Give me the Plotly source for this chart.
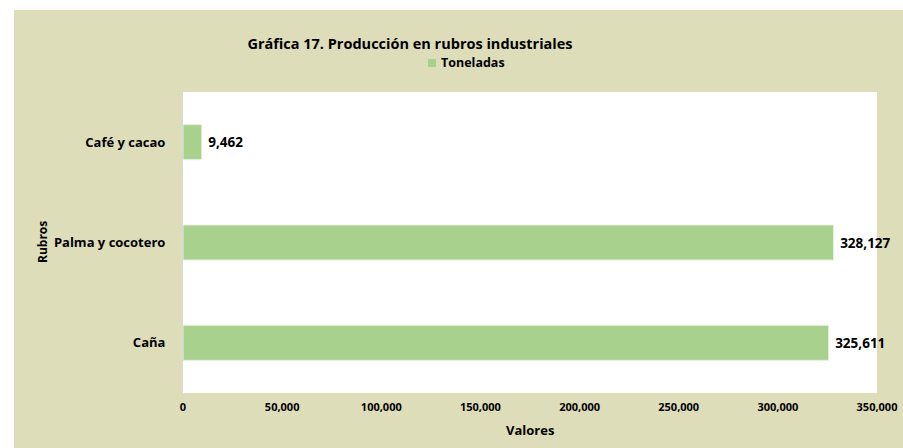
import plotly.graph_objects as go

categories = ["Caña", "Palma y cocotero", "Café y cacao"]
values = [325611, 328127, 9462]
series_name = "Toneladas"
x_ticks = [0, 50000, 100000, 150000, 200000, 250000, 300000, 350000]
x_tick_labels = ["0", "50,000", "100,000", "150,000", "200,000", "250,000", "300,000", "350,000"]

W, H = 903, 448
L, R, T, B = 183, 26, 92, 55
PW, PH = W - L - R, H - T - B
BEIGE = "#DEDDB9"
GREEN = "#A9D18E"
FONT = "Open Sans"


def px_x(x):
    return (x - L) / PW


def px_y(y):
    return (H - B - y) / PH


fig = go.Figure()
fig.add_trace(go.Bar(
    y=categories, x=values, orientation="h",
    name=series_name, showlegend=False,
    marker=dict(color=GREEN, line=dict(color="#E8F2E0", width=1)),
    text=["\u00a0" + f"{v:,}" for v in values], textposition="outside",
    textfont=dict(family=FONT, size=13.5, color="#000000", weight="bold"),
    cliponaxis=False,
))

fig.update_layout(
    width=W, height=H,
    margin=dict(l=L, r=R, t=T, b=B, autoexpand=False),
    paper_bgcolor=BEIGE, plot_bgcolor="white",
    font=dict(family=FONT, size=11, color="#000000", weight="bold"),
    bargap=0.65,
    showlegend=False,
    title=dict(text="Gráfica 17. Producción en rubros industriales",
               x=410 / W, xanchor="center", xref="container",
               y=1 - 44 / H, yanchor="middle", yref="container",
               font=dict(family=FONT, size=14.5, color="#000000", weight="bold")),
    xaxis=dict(range=[0, 350000], tickvals=x_ticks, ticktext=x_tick_labels,
               showgrid=False, zeroline=False, showline=False,
               ticks="outside", ticklen=4, tickcolor="rgba(0,0,0,0)",
               tickfont=dict(family=FONT, size=11, weight="bold")),
    yaxis=dict(showgrid=False, zeroline=False, showline=True, linecolor="#D9D9D9", linewidth=1,
               ticks="outside", ticklen=14, tickcolor="rgba(0,0,0,0)",
               tickfont=dict(family=FONT, size=13, weight="bold")),
    annotations=[
        dict(text="Valores", xref="paper", yref="paper", x=0.5,
             y=px_y(430), xanchor="center", yanchor="middle",
             showarrow=False, font=dict(family=FONT, size=13, weight="bold")),
        dict(text="Rubros", xref="paper", yref="paper", x=px_x(42),
             y=px_y(242), xanchor="center", yanchor="middle", textangle=-90,
             showarrow=False, font=dict(family=FONT, size=12, weight="bold")),
        dict(text=series_name, xref="paper", yref="paper", x=px_x(439),
             y=px_y(63), xanchor="left", yanchor="middle",
             showarrow=False, font=dict(family=FONT, size=12.5, weight="bold")),
    ],
)

# legend swatch
fig.add_shape(type="rect", xref="paper", yref="paper",
              x0=px_x(428), x1=px_x(436), y0=px_y(67), y1=px_y(59),
              fillcolor=GREEN, line=dict(width=0), layer="above")

# white strips at the left and top edges of the picture
fig.add_shape(type="rect", xref="paper", yref="paper",
              x0=px_x(-5), x1=px_x(14), y0=px_y(H + 5), y1=px_y(-5),
              fillcolor="white", line=dict(width=0), layer="above")
fig.add_shape(type="rect", xref="paper", yref="paper",
              x0=px_x(-5), x1=px_x(W + 5), y0=px_y(10), y1=px_y(-5),
              fillcolor="white", line=dict(width=0), layer="above")

fig.write_html("out.html", config={"displayModeBar": False},
               post_script="document.body.style.margin='0';document.body.style.padding='0';")
